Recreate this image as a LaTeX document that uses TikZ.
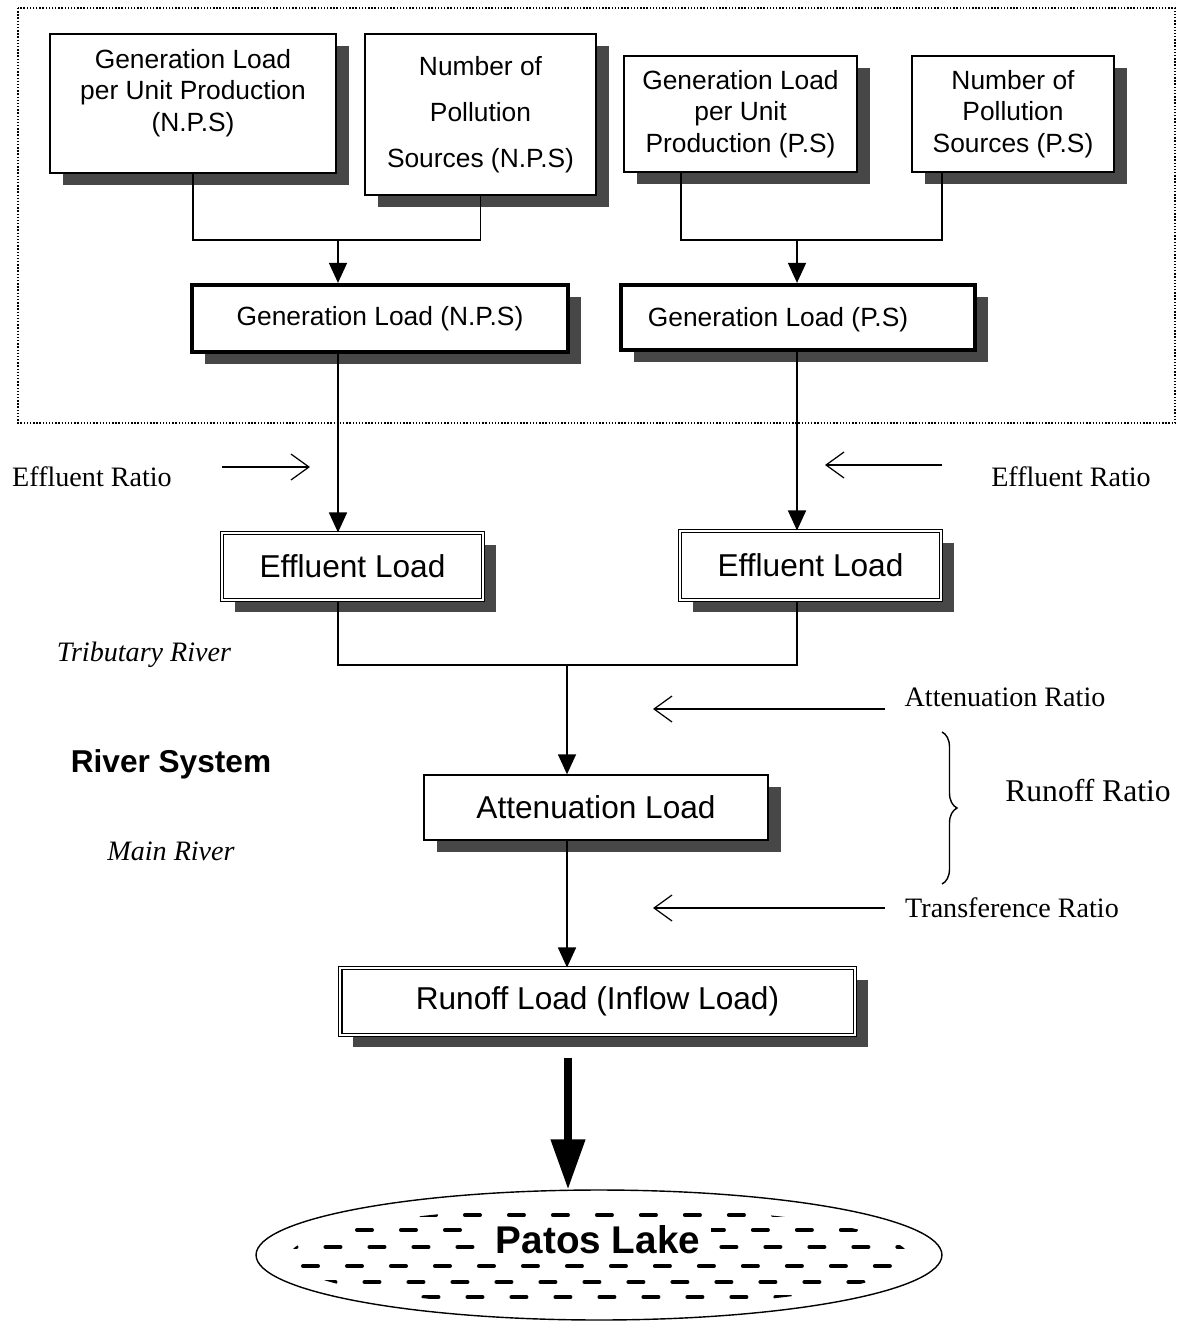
\documentclass[tikz,border=0pt]{standalone}
\usepackage{fontspec}
\setmainfont{Liberation Serif}
\setsansfont{Liberation Sans}
\usetikzlibrary{arrows.meta, positioning, shadows, shapes.geometric, decorations.pathreplacing}
\tikzset{
  >={Triangle[length=0.4cm,width=0.36cm]},
  boxshadow/.style={drop shadow={shadow xshift=0.26cm,shadow yshift=-0.24cm,fill=black!72,opacity=1}},
  srcbox/.style={draw,line width=0.8pt,fill=white,boxshadow,align=center,inner sep=0pt,
    font=\sffamily\fontsize{15}{18}\selectfont},
  genbox/.style={draw,line width=2.4pt,fill=white,boxshadow,inner sep=0pt,
    font=\sffamily\fontsize{15}{18}\selectfont},
  loadbox/.style={draw,line width=0.6pt,double,double distance=1.6pt,fill=white,boxshadow,inner sep=0pt,
    font=\sffamily\fontsize{18}{22}\selectfont},
  attbox/.style={draw,line width=0.8pt,fill=white,boxshadow,inner sep=0pt,
    font=\sffamily\fontsize{18}{22}\selectfont},
  boxtxt/.style={align=center,font=\sffamily\fontsize{15}{18}\selectfont},
  flow/.style={draw,line width=0.9pt},
  bigflow/.style={draw,line width=0.15cm,-{Triangle[length=1cm,width=0.66cm]}},
  ratioarr/.style={draw,line width=0.7pt,-{Straight Barb[length=0.36cm,width=0.52cm]}},
  ratiotxt/.style={font=\rmfamily\fontsize{16}{19}\selectfont},
  rivertxt/.style={font=\rmfamily\itshape\fontsize{16}{19}\selectfont},
  lakedash/.style={line width=0.08cm,line cap=round,dash pattern=on 0.3cm off 0.58cm}
}

\begin{document}
\begin{tikzpicture}[x=0.02cm,y=-0.02cm]
  \useasboundingbox (0,0) rectangle (1181,1321);

  % Generation frame
  \draw[densely dotted,line width=0.8pt] (18,8) rectangle (1175,423);

  % Sources
  \node[srcbox,minimum width=5.72cm,minimum height=2.78cm] (npsunit) at (193,103.5) {};
  \node[boxtxt] (npsunittxt) at (193,93) {Generation Load\\per Unit Production\\(N.P.S)};
  \node[srcbox,font=\sffamily\fontsize{15}{26}\selectfont,minimum width=4.62cm,minimum height=3.22cm]
    (npsnum) at (480.5,114.5) {Number of\\Pollution\\Sources (N.P.S)};
  \node[srcbox,minimum width=4.66cm,minimum height=2.32cm] (psunit) at (740.5,114)
    {Generation Load\\per Unit\\Production (P.S)};
  \node[srcbox,minimum width=4.04cm,minimum height=2.32cm] (psnum) at (1013,114)
    {Number of\\Pollution\\Sources (P.S)};

  % Generation loads
  \node[genbox,minimum width=7.52cm,minimum height=1.34cm] (gennps) at (380,318.5) {Generation Load (N.P.S)};
  \node[genbox,minimum width=7.08cm,minimum height=1.30cm] (genps) at (798,317.5) {};
  \node[boxtxt] (genpstxt) at (778,320) {Generation Load (P.S)};

  % Effluent loads
  \node[loadbox,minimum width=5.22cm,minimum height=1.34cm] (effnps) at (352.5,566.5) {Effluent Load};
  \node[loadbox,minimum width=5.22cm,minimum height=1.38cm] (effps) at (810.5,565.5) {Effluent Load};

  % River loads
  \node[attbox,minimum width=6.88cm,minimum height=1.30cm] (att) at (596,807.5) {Attenuation Load};
  \node[loadbox,minimum width=10.30cm,minimum height=1.34cm] (run) at (597.5,1001.5) {Runoff Load (Inflow Load)};

  % Lake
  \node[draw,ellipse,line width=0.8pt,minimum width=13.72cm,minimum height=2.6cm,inner sep=0pt] (lake) at (599,1255) {};
  \begin{scope}
    \clip (599,1257) ellipse [x radius=6.2cm, y radius=1.0cm];
    \foreach \yy/\ph in {1215/0.1,1230/0.5,1247/0.25,1266/0.7,1282/0.35,1297/0.05,1311/0.55}
      \draw[lakedash,dash phase=\ph cm] (250,\yy) -- (950,\yy);
  \end{scope}
  \node[fill=white,inner xsep=6pt,inner ysep=5pt,font=\sffamily\bfseries\fontsize{22}{26}\selectfont]
    (laketxt) at (598,1240) {Patos Lake};

  % Side labels
  \node[ratiotxt] (effratl) at (92,477) {Effluent Ratio};
  \node[ratiotxt] (effratr) at (1071,477) {Effluent Ratio};
  \node[rivertxt] (trib) at (144,655) {Tributary River};
  \node[font=\sffamily\bfseries\fontsize{18}{22}\selectfont] (rivsys) at (171,764) {River System};
  \node[rivertxt] (mainriv) at (171,851) {Main River};
  \node[ratiotxt] (attratio) at (1005,697) {Attenuation Ratio};
  \node[ratiotxt,font=\rmfamily\fontsize{18}{22}\selectfont] (runratio) at (1088,791) {Runoff Ratio};
  \node[ratiotxt] (transratio) at (1012,908) {Transference Ratio};

  % Joins
  \coordinate (npsjoin) at (338,240);
  \coordinate (psjoinl) at (681,240);
  \coordinate (psjoinr) at (942,240);
  \coordinate (psjoin) at (797,240);
  \coordinate (effjoin) at (567,665);
  \coordinate (runout) at (568,1058);

  % Flow
  \draw[flow] (npsunit.south) |- (npsjoin) -| (npsnum.south);
  \draw[flow,->] (npsjoin) -- (npsjoin |- gennps.north);
  \draw[flow] (psjoinl |- psunit.south) -- (psjoinl) -- (psjoinr) -- (psjoinr |- psnum.south);
  \draw[flow,->] (psjoin) -- (psjoin |- genps.north);
  \draw[flow,->] (npsjoin |- gennps.south) -- (npsjoin |- effnps.north);
  \draw[flow,->] (psjoin |- genps.south) -- (psjoin |- effps.north);
  \draw[flow] (npsjoin |- effnps.south) |- (effjoin) -| (psjoin |- effps.south);
  \draw[flow,->] (effjoin) -- (effjoin |- att.north);
  \draw[flow,->] (effjoin |- att.south) -- (effjoin |- run.north);
  \draw[bigflow] (runout) -- (runout |- lake.north);

  % Ratios
  \coordinate (effl0) at (222,467);
  \coordinate (effl1) at (310,467);
  \coordinate (effr0) at (942,465);
  \coordinate (effr1) at (825,465);
  \coordinate (att0) at (885,709);
  \coordinate (att1) at (653,709);
  \coordinate (trans0) at (885,908);
  \coordinate (trans1) at (653,908);
  \draw[ratioarr] (effl0) -- (effl1);
  \draw[ratioarr] (effr0) -- (effr1);
  \draw[ratioarr] (att0) -- (att1);
  \draw[ratioarr] (trans0) -- (trans1);

  \coordinate (bracetop) at (942,732);
  \coordinate (bracebot) at (942,884);
  \draw[line width=0.8pt,decorate,decoration={brace,amplitude=0.3cm}] (bracetop) -- (bracebot);
\end{tikzpicture}
\end{document}
